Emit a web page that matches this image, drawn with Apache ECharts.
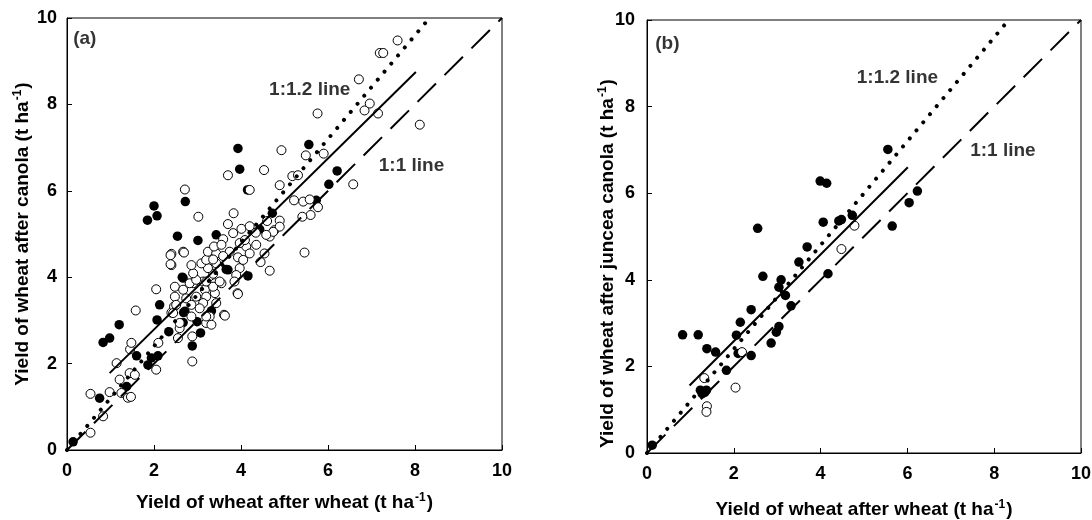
<!DOCTYPE html>
<html><head><meta charset="utf-8">
<script src="https://cdn.jsdelivr.net/npm/echarts@6/dist/echarts.min.js"></script>
<style>html,body{margin:0;padding:0;background:#fff}#c{width:1092px;height:520px}</style>
</head><body><div id="c"></div><script>
// ---- data ----
const tickValues = [0, 2, 4, 6, 8, 10];

// Panel (a): wheat after canola vs wheat after wheat
const canolaFilled = [
  [0.14,0.19],[0.75,1.20],[1.37,1.47],[0.83,2.49],[0.98,2.59],[1.20,2.90],[1.60,2.18],[1.86,1.97],
  [1.94,2.13],[2.09,2.18],[2.07,3.01],[2.13,3.36],[2.34,2.74],[2.67,2.95],[2.68,3.18],[2.88,2.41],
  [2.99,2.97],[3.07,2.71],[3.32,3.22],[2.67,3.98],[3.66,4.18],[4.16,4.03],[3.01,4.85],[2.54,4.95],
  [3.43,4.98],[4.43,5.11],[4.72,5.48],[3.70,4.17],[2.65,4.00],[2.71,3.21],[1.85,5.32],[2.07,5.42],
  [2.00,5.65],[2.72,5.75],[3.93,6.98],[3.97,6.50],[4.15,6.02],[5.56,7.07],[6.21,6.46],[6.02,6.15],
  [5.73,5.78]
];
const canolaOpen = [
  [0.54,0.40],[0.83,0.78],[0.54,1.30],[0.98,1.34],[1.25,1.32],[1.40,1.21],[1.47,1.23],[1.21,1.63],
  [1.44,1.78],[1.56,1.74],[1.14,2.01],[1.45,2.33],[1.48,2.48],[1.58,3.23],[2.05,1.86],[2.10,2.48],
  [2.05,3.72],[2.40,3.18],[2.46,3.32],[2.59,2.82],[2.88,2.05],[2.88,2.63],[3.20,2.94],[3.28,3.09],
  [3.61,3.13],[3.92,3.63],[4.66,4.15],[2.55,2.59],[2.44,3.17],[2.59,2.94],[2.86,3.09],[3.20,3.09],
  [3.32,2.90],[3.63,3.11],[3.93,3.61],
  [2.48,3.78],[2.67,3.71],[2.90,3.86],[3.13,3.90],[3.17,3.71],[3.40,3.86],[3.55,3.86],[3.40,3.63],
  [3.20,3.55],[2.97,3.55],[2.74,3.51],[2.48,3.55],[2.51,3.36],[2.86,3.36],[3.13,3.40],[3.05,3.28],
  [3.43,3.40],[2.82,3.86],[2.97,3.94],[3.20,3.90],[3.36,3.78],[3.51,3.90],[2.90,4.09],[3.36,4.08],
  [3.97,4.21],[3.89,4.05],[3.85,3.90],[3.24,4.21],[3.09,4.32],[2.86,4.28],[2.40,4.28],[2.40,4.54],
  [2.67,4.59],[3.20,4.40],[3.43,4.32],[3.24,4.59],[3.43,4.55],[3.74,4.59],[3.59,4.49],[3.36,4.41],
  [3.93,4.46],[4.12,4.71],[4.20,4.55],[3.97,4.79],[4.54,4.55],[4.09,4.86],[3.59,4.88],[3.38,4.71],
  [3.55,4.75],[2.38,4.51],[2.38,4.30],[2.69,4.57],[4.35,4.75],[4.45,4.35],[4.05,4.40],
  [3.83,5.48],[3.70,5.23],[3.82,5.02],[4.01,5.12],[4.20,5.18],[4.34,5.03],[4.66,4.94],[4.77,5.09],
  [4.89,5.31],[4.60,5.30],[4.89,5.17],[4.74,5.05],[4.58,4.98],[3.02,5.40],[2.71,6.03],[3.70,6.36],
  [4.53,6.48],[4.20,6.02],[4.89,6.13],[4.93,6.94],[5.49,6.82],[5.90,6.86],[5.18,6.34],[5.31,6.36],
  [6.58,6.15],[5.22,5.78],[5.43,5.75],[5.58,5.80],[5.77,5.62],[5.60,5.44],[5.41,5.40],[5.46,4.57],
  [5.76,7.79],[6.84,7.86],[6.96,8.02],[7.15,7.79],[6.71,8.58],[7.19,9.19],[7.27,9.19],[7.60,9.48],
  [8.11,7.53]
];

// Panel (b): wheat after juncea canola vs wheat after wheat
const junceaFilled = [
  [0.12,0.18],[0.82,2.73],[1.18,2.73],[1.38,2.41],[1.58,2.33],[2.10,2.30],[2.40,2.25],[1.83,1.91],
  [1.23,1.45],[1.37,1.45],[1.27,1.37],[1.33,1.40],[2.06,2.72],[2.15,3.02],[2.40,3.31],[2.55,5.19],
  [2.67,4.08],[2.86,2.54],[2.98,2.79],[3.04,2.92],[3.04,3.83],[3.09,4.00],[3.19,3.64],[3.32,3.40],
  [3.50,4.41],[3.69,4.76],[3.99,6.28],[4.14,6.23],[4.06,5.33],[4.17,4.14],[4.42,5.36],[4.48,5.39],
  [4.73,5.49],[5.55,7.01],[5.65,5.24],[6.04,5.78],[6.23,6.05]
];
const junceaOpen = [
  [1.32,1.73],[1.38,1.08],[1.37,0.95],[2.04,1.51],[2.19,2.33],[4.48,4.71],[4.78,5.25]
];

// Reference lines and fitted lines (end points)
const lineOneToOne = [[0,0],[10,10]];
const lineOneToOnePointTwo = [[0,0],[8.333,10]];
const fitLineA = [[0.98,1.78],[8.02,8.75]];
const fitLineB = [[0.98,1.56],[6.01,6.60]];

// Text annotations [text, x, y] in data units
const notesA = [['(a)',0.41,9.53],['1:1.2 line',5.58,8.33],['1:1 line',7.92,6.59]];
const notesB = [['(b)',0.47,9.44],['1:1.2 line',5.77,8.67],['1:1 line',8.20,6.99]];

const xTitle = 'Yield of wheat after wheat (t ha';
const yTitleA = 'Yield of wheat after canola (t ha';
const yTitleB = 'Yield of wheat after juncea canola (t ha';

// ---- chart ----
const F = '"Liberation Sans", Arial, Helvetica, sans-serif';
const rich = {
  t: {fontSize: 19, fontWeight: 'bold', fontFamily: F, color: '#000', lineHeight: 22},
  s: {fontSize: 12, fontWeight: 'bold', fontFamily: F, color: '#000', verticalAlign: 'top', lineHeight: 22, padding:[0,1,9,1]}
};
function title(t){ return '{t|' + t + '}{s|-1}{t|)}'; }

function xAxis(idx, gap){
  return {
    gridIndex: idx, type: 'value', min: 0, max: 10, interval: 2,
    axisLine: {show: true, onZero: false, lineStyle: {color: '#000', width: 1}},
    axisTick: {show: true, inside: true, length: 5, lineStyle: {color: '#000'}},
    axisLabel: {color: '#000', fontSize: 18, fontWeight: 'bold', fontFamily: F, margin: 12,
      formatter: v => tickValues.includes(v) ? String(v) : ''},
    splitLine: {show: false},
    name: title(xTitle), nameLocation: 'middle', nameGap: gap, nameMoveOverlap: false,
    nameTextStyle: {rich: rich}
  };
}
function yAxis(idx, gap, t, margin, pad){
  return {
    gridIndex: idx, type: 'value', min: 0, max: 10, interval: 2,
    axisLine: {show: true, onZero: false, lineStyle: {color: '#000', width: 1}},
    axisTick: {show: true, inside: true, length: 5, lineStyle: {color: '#000'}},
    axisLabel: {color: '#000', fontSize: 18, fontWeight: 'bold', fontFamily: F, margin: margin,
      formatter: v => tickValues.includes(v) ? String(v) : ''},
    splitLine: {show: false},
    name: title(t), nameLocation: 'middle', nameGap: gap, nameMoveOverlap: false,
    nameTextStyle: {rich: rich, padding: pad}
  };
}

function scatter(data, idx, open){
  return {
    type: 'scatter', xAxisIndex: idx, yAxisIndex: idx, data: data, symbol: 'circle',
    symbolSize: open ? 9 : 9.5, silent: true, z: open ? 3 : 2,
    itemStyle: open ? {color: '#fff', borderColor: '#000', borderWidth: 1, opacity: 1}
                    : {color: '#000', opacity: 1}
  };
}
function line(data, idx, style){
  return {
    type: 'line', xAxisIndex: idx, yAxisIndex: idx, data: data, symbol: 'none',
    silent: true, z: 5, lineStyle: Object.assign({color: '#000'}, style)
  };
}
function notes(data, idx){
  return {
    type: 'scatter', xAxisIndex: idx, yAxisIndex: idx, symbolSize: 0, silent: true, z: 6,
    data: data.map(d => ({value: [d[1], d[2]], name: d[0]})),
    label: {show: true, position: 'inside', formatter: p => p.name, color: '#000',
      fontSize: 19, fontWeight: 'bold', fontFamily: F}
  };
}

const dotted = {width: 4, type: [0.01, 10.5], cap: 'round'};
const dashed = {width: 2, type: [26, 12], cap: 'butt'};
const solid = {width: 2, type: 'solid'};

const chart = echarts.init(document.getElementById('c'), null, {renderer: 'canvas'});
chart.setOption({
  animation: false,
  backgroundColor: '#fff',
  grid: [
    {left: 67, top: 18, width: 435, height: 432, show: true, borderColor: '#000', borderWidth: 1,
     backgroundColor: 'transparent', outerBoundsMode: 'none', containLabel: false},
    {left: 647, top: 20, width: 434, height: 433, show: true, borderColor: '#000', borderWidth: 1,
     backgroundColor: 'transparent', outerBoundsMode: 'none', containLabel: false}
  ],
  xAxis: [xAxis(0, 42), xAxis(1, 46)],
  yAxis: [yAxis(0, 33, yTitleA, 10, [0, 0, 0, 0]), yAxis(1, 28, yTitleB, 12, [0, 54, 0, 0])],
  series: [
    scatter(canolaFilled, 0, false), scatter(canolaOpen, 0, true),
    line(lineOneToOne, 0, dashed), line(lineOneToOnePointTwo, 0, dotted), line(fitLineA, 0, solid),
    notes(notesA, 0),
    scatter(junceaFilled, 1, false), scatter(junceaOpen, 1, true),
    line(lineOneToOne, 1, dashed), line(lineOneToOnePointTwo, 1, dotted), line(fitLineB, 1, solid),
    notes(notesB, 1)
  ]
});
</script></body></html>
